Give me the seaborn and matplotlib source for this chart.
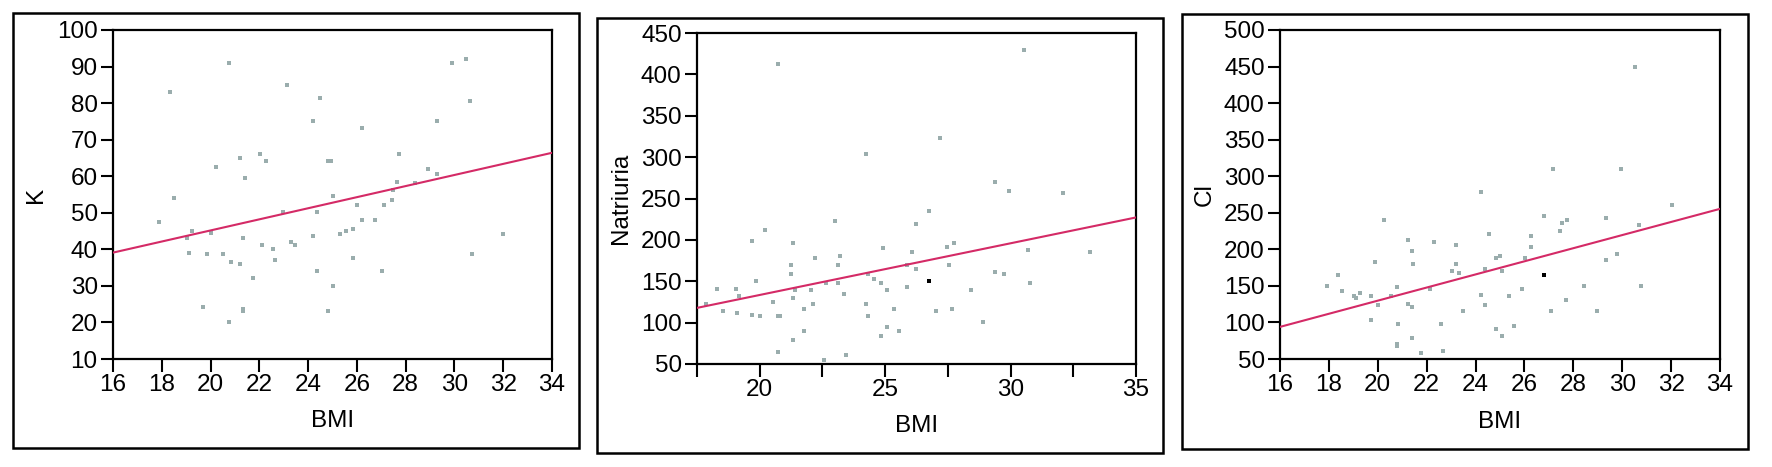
import numpy as np
import pandas as pd
import seaborn as sns
import matplotlib
matplotlib.use("Agg")
import matplotlib.pyplot as plt
from matplotlib.patches import Rectangle

# ---------------- data ----------------
# Panel 1: K vs BMI
bmi_k = [17.90, 18.35, 18.50, 19.02, 19.24, 19.10, 19.70, 19.85, 20.00, 20.22,
         20.52, 20.74, 20.82, 20.74, 21.19, 21.19, 21.34, 21.42, 21.34, 21.34,
         21.72, 22.02, 22.11, 22.26, 22.54, 22.63, 22.99, 23.14, 23.29, 23.45,
         24.20, 24.20, 24.35, 24.35, 24.50, 24.80, 24.95, 24.80, 25.03, 25.03,
         25.32, 25.55, 25.85, 25.85, 26.00, 26.23, 26.23, 26.75, 27.05, 27.12,
         27.42, 27.50, 27.65, 27.72, 28.39, 28.92, 29.29, 29.29, 29.89, 30.49,
         30.64, 30.73, 32.00]
k_vals = [47.5, 83.1, 54.1, 43.1, 45.1, 39.1, 24.2, 38.6, 44.6, 62.6,
          38.6, 91.1, 36.6, 20.2, 65.1, 36.1, 43.1, 59.6, 23.6, 23.1,
          32.1, 66.1, 41.1, 64.1, 40.1, 37.1, 50.1, 85.0, 42.1, 41.1,
          75.1, 43.6, 50.1, 34.1, 81.5, 64.1, 64.1, 23.1, 54.6, 30.1,
          44.1, 45.1, 45.5, 37.6, 52.1, 73.1, 48.1, 48.1, 34.1, 52.1,
          53.5, 56.1, 58.5, 66.1, 58.1, 62.1, 60.5, 75.1, 91.1, 92.0,
          80.5, 38.6, 44.1]

# Panel 2: Natriuria vs BMI
bmi_na = [17.87, 18.31, 18.54, 19.04, 19.19, 19.11, 19.71, 19.85, 19.71, 20.00,
          20.21, 20.52, 20.73, 20.73, 20.81, 20.73, 21.32, 21.24, 21.24, 21.40,
          21.32, 21.32, 21.76, 21.76, 22.05, 22.13, 22.20, 22.56, 22.64, 23.00,
          23.14, 23.14, 23.22, 23.37, 23.44, 24.25, 24.25, 24.31, 24.31, 24.54,
          24.83, 24.90, 25.06, 25.06, 24.83, 25.34, 25.57, 25.86, 25.86, 26.07,
          26.22, 26.22, 26.74, 27.03, 27.18, 27.47, 27.54, 27.76, 27.68, 28.42,
          28.92, 29.36, 29.36, 29.73, 29.95, 30.53, 30.68, 30.76, 32.08, 33.17]
na_vals = [123.1, 141.0, 114.2, 141.0, 132.0, 112.0, 198.8, 149.8, 109.7, 107.7,
           212.0, 125.5, 412.0, 107.7, 107.7, 65.0, 196.8, 169.6, 158.7, 138.9,
           130.0, 78.5, 116.6, 89.9, 138.9, 123.1, 178.5, 54.3, 147.4, 223.0,
           169.6, 147.4, 181.0, 134.4, 61.1, 303.2, 123.1, 107.7, 158.7, 152.2,
           147.8, 189.9, 138.9, 94.3, 83.4, 116.6, 89.9, 143.3, 169.6, 185.4,
           165.2, 218.6, 234.4, 114.2, 323.1, 191.9, 169.6, 196.4, 116.6, 138.9,
           100.8, 270.0, 160.7, 158.7, 258.7, 430.0, 187.4, 147.4, 256.3, 185.4]
bmi_na_hi = [26.74]
na_hi = [149.8]

# Panel 3: Cl vs BMI
bmi_cl = [17.92, 18.37, 18.52, 19.04, 19.12, 19.27, 19.72, 19.72, 19.87, 20.02,
          20.24, 20.54, 20.77, 20.84, 20.77, 20.77, 21.23, 21.23, 21.38, 21.38,
          21.44, 21.38, 21.76, 22.13, 22.28, 22.58, 22.65, 23.03, 23.18, 23.18,
          23.33, 23.48, 24.24, 24.24, 24.39, 24.39, 24.54, 24.84, 24.99, 25.07,
          24.84, 25.07, 25.37, 25.59, 25.89, 26.04, 26.27, 26.27, 26.79, 27.09,
          27.16, 27.46, 27.55, 27.76, 27.70, 28.45, 28.97, 29.34, 29.34, 29.79,
          29.94, 30.54, 30.69, 30.77, 32.05]
cl_vals = [150.5, 165.5, 143.2, 135.9, 133.2, 140.9, 135.9, 103.2, 183.2, 123.2,
           240.5, 135.9, 148.2, 98.2, 70.9, 68.2, 213.2, 125.5, 198.2, 120.5,
           180.5, 78.2, 58.2, 145.9, 210.5, 98.2, 61.1, 170.5, 205.5, 180.5,
           168.2, 115.5, 278.2, 138.2, 172.7, 123.2, 220.5, 188.2, 190.5, 170.5,
           90.9, 80.9, 135.9, 95.5, 145.9, 188.2, 203.2, 218.2, 245.5, 115.5,
           310.5, 225.5, 235.5, 240.5, 130.5, 150.5, 115.5, 243.2, 185.5, 193.2,
           310.5, 450.0, 233.2, 150.5, 260.5]
bmi_cl_hi = [26.79]
cl_hi = [165.5]

# Fitted lines (intercept, slope)
fit_k = [14.83, 1.517]
fit_na = [8.5, 6.246]
fit_cl = [-49.6, 8.97]

# Axis ticks / labels
xticks_a = [16, 18, 20, 22, 24, 26, 28, 30, 32, 34]
xticks_b = [17.5, 20, 22.5, 25, 27.5, 30, 32.5, 35]
xticklabels_b = ["", "20", "", "25", "", "30", "", "35"]
yticks_k = [10, 20, 30, 40, 50, 60, 70, 80, 90, 100]
yticks_na = [50, 100, 150, 200, 250, 300, 350, 400, 450]
yticks_cl = [50, 100, 150, 200, 250, 300, 350, 400, 450, 500]
ylabels = ["K", "Natriuria", "Cl"]
xlabel = "BMI"

# ---------------- style ----------------
sns.set_theme(style="white")
plt.rcParams['font.family'] = ['Liberation Sans', 'DejaVu Sans']

W, H = 1772, 467
fig = plt.figure(figsize=(W / 100, H / 100), dpi=100)
fig.patch.set_facecolor("white")

PT_COLOR = "#9aadad"
LINE_COLOR = "#d42a66"
FS = 17.5


def ax_at(l, t, r, b):
    return fig.add_axes([l / W, 1 - b / H, (r - l) / W, (b - t) / H])


def frame(l, t, r, b):
    fig.add_artist(Rectangle((l / W, 1 - b / H), (r - l) / W, (b - t) / H,
                             transform=fig.transFigure, fill=False,
                             edgecolor="black", linewidth=1.8))


panels = [
    dict(axbox=(113, 30, 552, 359), frame=(13, 13, 579, 448),
         x=bmi_k, y=k_vals, hx=[], hy=[], fit=fit_k, xlim=(16, 34), ylim=(10, 100),
         xt=xticks_a, xtl=[str(v) for v in xticks_a], yt=yticks_k,
         ylab=ylabels[0], xlab_y=421, ylab_x=36),
    dict(axbox=(697, 33, 1136, 364), frame=(597, 18, 1163, 453),
         x=bmi_na, y=na_vals, hx=bmi_na_hi, hy=na_hi, fit=fit_na, xlim=(17.5, 35), ylim=(50, 450),
         xt=xticks_b, xtl=xticklabels_b, yt=yticks_na,
         ylab=ylabels[1], xlab_y=426, ylab_x=621),
    dict(axbox=(1280, 30, 1720, 359), frame=(1182, 14, 1748, 449),
         x=bmi_cl, y=cl_vals, hx=bmi_cl_hi, hy=cl_hi, fit=fit_cl, xlim=(16, 34), ylim=(50, 500),
         xt=xticks_a, xtl=[str(v) for v in xticks_a], yt=yticks_cl,
         ylab=ylabels[2], xlab_y=422, ylab_x=1205),
]

for p in panels:
    l, t, r, b = p["axbox"]
    ax = ax_at(l, t, r, b)
    frame(*p["frame"])
    df = pd.DataFrame({"x": p["x"], "y": p["y"]})
    sns.scatterplot(data=df, x="x", y="y", marker="s", s=9, color=PT_COLOR,
                    linewidth=0, ax=ax, zorder=3)
    if p["hx"]:
        sns.scatterplot(x=p["hx"], y=p["hy"], marker="s", s=11, color="black",
                        linewidth=0, ax=ax, zorder=4)
    xs = np.array(p["xlim"], dtype=float)
    ys = p["fit"][0] + p["fit"][1] * xs
    sns.lineplot(x=xs, y=ys, color=LINE_COLOR, linewidth=1.5, ax=ax, zorder=5)
    ax.set_xlim(*p["xlim"])
    ax.set_ylim(*p["ylim"])
    ax.set_xticks(p["xt"])
    ax.set_xticklabels(p["xtl"])
    ax.set_yticks(p["yt"])
    ax.set_yticklabels([str(v) for v in p["yt"]])
    ax.tick_params(axis="both", which="both", direction="out", length=9, width=1.5,
                   labelsize=FS, pad=2, bottom=True, left=True, top=False, right=False,
                   colors="black")
    for s in ax.spines.values():
        s.set_visible(True)
        s.set_color("black")
        s.set_linewidth(1.6)
    ax.set_facecolor("white")
    ax.set_xlabel(xlabel, fontsize=FS, color="black")
    ax.set_ylabel(p["ylab"], fontsize=FS, color="black")
    ax.xaxis.set_label_coords(0.5, (b - p["xlab_y"]) / (b - t))
    ax.xaxis.label.set_va("center")
    ax.yaxis.set_label_coords((p["ylab_x"] - l) / (r - l), 0.5)
    ax.yaxis.label.set_va("center")
    ax.grid(False)

fig.savefig("out.png", dpi=100, facecolor="white")
